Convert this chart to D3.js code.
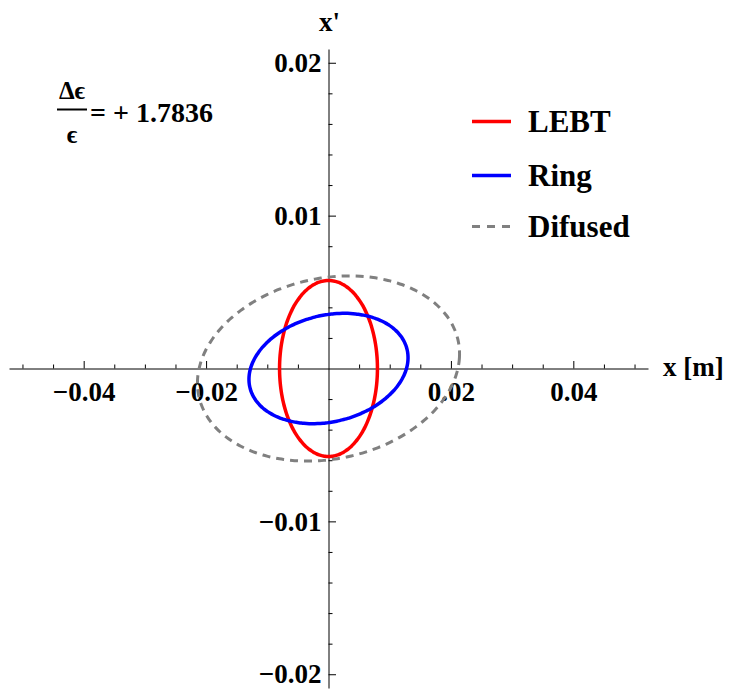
<!DOCTYPE html>
<html>
<head>
<meta charset="utf-8">
<script src="https://cdn.jsdelivr.net/npm/d3@7"></script>
<style>
  body { margin: 0; background: #fff; }
  svg text { font-family: "Liberation Serif", "Times New Roman", serif; font-weight: bold; fill: #000; }
</style>
</head>
<body>
<svg id="chart" width="731" height="690"></svg>
<script>
// Phase-space ellipses: gamma*x^2 + 2*alpha*x*x' + beta*x'^2 = emittance
const seriesNames  = ["LEBT", "Ring", "Difused"];
const seriesColors = ["#ff0000", "#0000ff", "#808080"];
const twissAlpha   = [0.0, -0.20, -0.16];
const twissBeta    = [1.39, 3.67, 3.58];      // m
const emittance0   = 4.6e-5;                  // m·rad, matched emittance
const mismatch     = 1.7836;                  // Δε/ε
const emittances   = [emittance0, emittance0, emittance0 * (1 + mismatch)];

const xMajorTicks = [-0.04, -0.02, 0.02, 0.04];
const yMajorTicks = [-0.02, -0.01, 0.01, 0.02];
const xMinorTicks = [-0.05, -0.045, -0.035, -0.03, -0.025, -0.015, -0.01, -0.005, 0.005, 0.01, 0.015, 0.025, 0.03, 0.035, 0.045, 0.05];
const yMinorTicks = [-0.018, -0.016, -0.014, -0.012, -0.008, -0.006, -0.004, -0.002, 0.002, 0.004, 0.006, 0.008, 0.012, 0.014, 0.016, 0.018];

const svg = d3.select("#chart");
const serif = '"Liberation Serif", "Times New Roman", serif';

const x = d3.scaleLinear().domain([-0.0522, 0.0522]).range([9, 648]);
const y = d3.scaleLinear().domain([-0.0209, 0.0209]).range([688, 49]);

const fmt = d => d3.format(".2f")(d);

// x axis through the origin
const gx = svg.append("g").attr("transform", `translate(0,${y(0)})`);
gx.call(d3.axisBottom(x).tickValues(xMinorTicks).tickSizeInner(-4).tickSizeOuter(0).tickFormat(""));
gx.append("g").call(d3.axisBottom(x).tickValues(xMajorTicks).tickSizeInner(-7.5).tickSizeOuter(0).tickPadding(13).tickFormat(fmt))
  .call(g => g.select(".domain").remove());

// y axis through the origin
const gy = svg.append("g").attr("transform", `translate(${x(0)},0)`);
gy.call(d3.axisLeft(y).tickValues(yMinorTicks).tickSizeInner(-4).tickSizeOuter(0).tickFormat(""));
gy.append("g").call(d3.axisLeft(y).tickValues(yMajorTicks).tickSizeInner(-7.5).tickSizeOuter(0).tickPadding(7).tickFormat(fmt))
  .call(g => g.select(".domain").remove());

svg.selectAll("g").attr("font-family", null).attr("font-size", null);
svg.selectAll(".domain").attr("stroke", "#000").attr("stroke-width", 1);
svg.selectAll(".tick line").attr("stroke", "#000").attr("stroke-width", 1);
svg.selectAll(".tick text")
  .style("font-family", serif)
  .style("font-weight", "bold")
  .style("font-size", "27px")
  .attr("fill", "#000");

// axis titles
svg.append("text").attr("x", 663).attr("y", 376).style("font-size", "27px").text("x [m]");
svg.append("text").attr("x", x(0) + 1).attr("y", 31).attr("text-anchor", "middle").style("font-size", "27px").text("x'");

// ellipses
const angles = d3.range(0, 360, 2).map(a => a * Math.PI / 180);
const line = d3.line().x(d => x(d[0])).y(d => y(d[1])).curve(d3.curveCardinalClosed);

seriesNames.forEach((name, i) => {
  const a = twissAlpha[i], b = twissBeta[i], e = emittances[i];
  const pts = angles.map(t => [
    Math.sqrt(e * b) * Math.cos(t),
    -Math.sqrt(e / b) * (a * Math.cos(t) + Math.sin(t))
  ]);
  svg.append("path")
    .attr("d", line(pts))
    .attr("fill", "none")
    .attr("stroke", seriesColors[i])
    .attr("stroke-width", i === 2 ? 3 : 3.5)
    .attr("stroke-dasharray", i === 2 ? "8,6" : null);
});

// legend
const legend = svg.append("g");
const legendY = [121.5, 175.5, 226.5];
seriesNames.forEach((name, i) => {
  legend.append("line")
    .attr("x1", 472).attr("x2", 511)
    .attr("y1", legendY[i]).attr("y2", legendY[i])
    .attr("stroke", seriesColors[i])
    .attr("stroke-width", i === 2 ? 3 : 3.5)
    .attr("stroke-dasharray", i === 2 ? "8,7" : null);
  legend.append("text")
    .attr("x", 528).attr("y", legendY[i] + 10)
    .style("font-size", "31px")
    .text(name);
});

// emittance growth annotation
const ann = svg.append("g");
ann.append("text").attr("x", 72).attr("y", 99).attr("text-anchor", "middle").style("font-size", "25px").text("Δϵ");
ann.append("line").attr("x1", 57).attr("x2", 87).attr("y1", 109.5).attr("y2", 109.5).attr("stroke", "#000").attr("stroke-width", 2);
ann.append("text").attr("x", 72).attr("y", 143).attr("text-anchor", "middle").style("font-size", "25px").text("ϵ");
ann.append("text").attr("x", 90).attr("y", 122).style("font-size", "28px").text("= + " + mismatch.toFixed(4));
</script>
</body>
</html>
